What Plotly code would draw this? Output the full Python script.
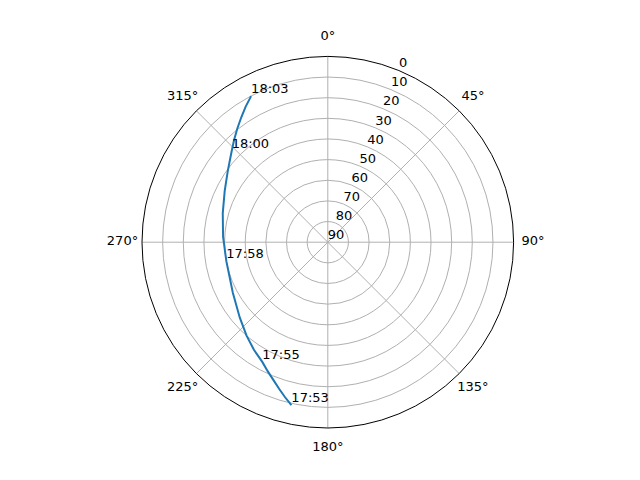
import plotly.graph_objects as go

# Sky track of a pass: time, azimuth (deg), elevation (deg)
times = ["17:53", "", "", "", "", "17:55", "", "", "", "", "17:58",
         "", "", "", "", "18:00", "", "", "", "", "18:03"]
azimuth = [192.6, 195.4, 198.3, 201.4, 204.9, 208.7, 214.5, 221.0, 229.5, 242.0, 259.4,
           273.0, 285.5, 296.5, 305.5, 313.4, 317.5, 321.5, 325.3, 328.8, 332.3]
elevation = [9.1, 12.1, 15.1, 18.1, 21.0, 23.9, 26.8, 30.0, 33.9, 37.9, 40.0,
             39.2, 37.2, 34.2, 30.5, 25.9, 22.8, 19.6, 16.4, 13.2, 10.1]

theta_ticks = [0, 45, 90, 135, 180, 225, 270, 315]
theta_labels = [f"{t}°" for t in theta_ticks]
r_ticks = [0, 10, 20, 30, 40, 50, 60, 70, 80, 90]
r_label_angle = 22.5

font = dict(family="DejaVu Sans", size=13, color="black")

# page body has an 8px margin; compensate so the circle lands where intended
OFF = 8
cx, cy, R = 327.8 - OFF, 242.2 - OFF, 185.8
R_LAB = R + 19.5  # radius of the ring on which angular labels are centred
W, H = 640, 480


def dom(rad):
    return dict(x=[(cx - rad) / W, (cx + rad) / W], y=[1 - (cy + rad) / H, 1 - (cy - rad) / H])


fig = go.Figure()
fig.add_trace(go.Scatterpolar(
    r=elevation, theta=azimuth, mode="lines+text", text=times,
    textposition="top right", textfont=font,
    line=dict(color="#1f77b4", width=2), cliponaxis=False, showlegend=False,
))
# radial tick labels placed like matplotlib (at 22.5 deg)
fig.add_trace(go.Scatterpolar(
    r=r_ticks, theta=[r_label_angle] * len(r_ticks), mode="text",
    text=[str(v) for v in r_ticks], textposition="top right", textfont=font,
    cliponaxis=False, showlegend=False, hoverinfo="skip",
))
# angular tick labels centred on a slightly larger invisible polar frame
fig.add_trace(go.Scatterpolar(
    r=[1] * len(theta_ticks), theta=theta_ticks, mode="text",
    text=theta_labels, textposition="middle center", textfont=font,
    cliponaxis=False, showlegend=False, hoverinfo="skip", subplot="polar2",
))

hidden_ang = dict(rotation=90, direction="clockwise", visible=False, showgrid=False,
                  showline=False, showticklabels=False, ticks="")
hidden_rad = dict(range=[0, 1], visible=False, showgrid=False, showline=False,
                  showticklabels=False, ticks="")

fig.update_layout(
    width=W, height=H, margin=dict(l=0, r=0, t=0, b=0),
    paper_bgcolor="white", font=font, showlegend=False,
    polar2=dict(domain=dom(R_LAB), bgcolor="rgba(0,0,0,0)",
                angularaxis=hidden_ang, radialaxis=hidden_rad),
    polar=dict(
        domain=dom(R),
        bgcolor="white",
        angularaxis=dict(
            rotation=90, direction="clockwise",
            tickmode="array", tickvals=theta_ticks, showticklabels=False,
            showgrid=True, gridcolor="#b0b0b0", gridwidth=1,
            linecolor="black", linewidth=1, showline=True, ticks="",
        ),
        radialaxis=dict(
            range=[90, 0], tickmode="array", tickvals=r_ticks,
            showgrid=True, gridcolor="#b0b0b0", gridwidth=1,
            showline=False, ticks="", showticklabels=False,
        ),
    ),
)

fig.write_html("out.html")
